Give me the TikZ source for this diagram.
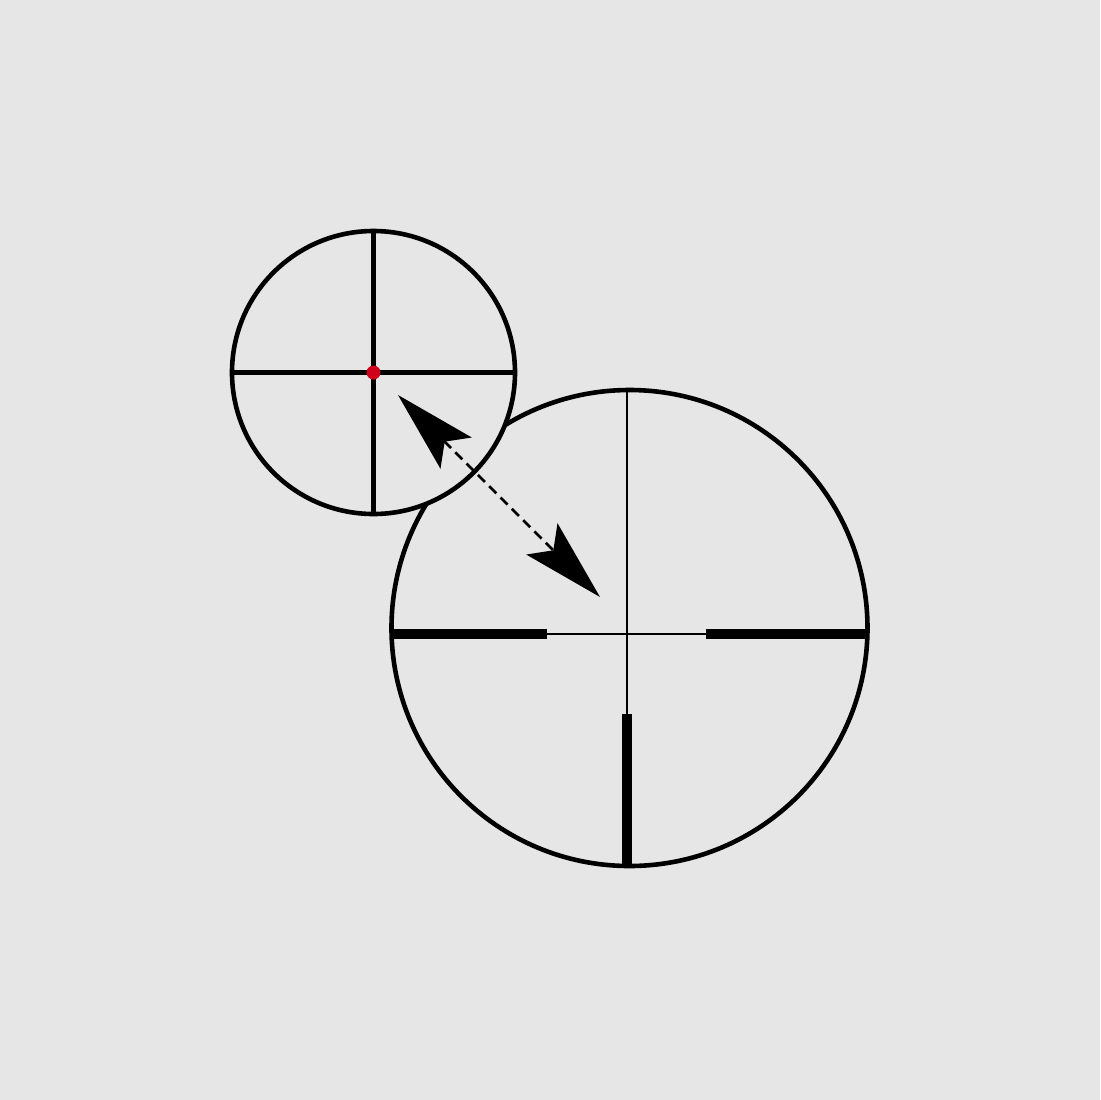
\documentclass[tikz,border=0pt]{standalone}
\usetikzlibrary{arrows.meta}
\definecolor{bg}{HTML}{E6E6E6}
\definecolor{dotred}{HTML}{D0021B}
\begin{document}
\begin{tikzpicture}[x=0.5pt,y=-0.5pt,
  ring/.style={line width=2.3pt,draw=black},
  thinhair/.style={line width=1.1pt,draw=black},
  thickbar/.style={line width=4.8pt,draw=black},
  smallhair/.style={line width=2.4pt,draw=black},
  movearrow/.style={line width=1.4pt,dash pattern=on 5pt off 3pt,
    {Stealth[length=41pt,width=22pt,inset=8pt]}-{Stealth[length=41pt,width=22pt,inset=8pt]}}]
\fill[bg] (0,0) rectangle (1100,1100);
\useasboundingbox (0,0) rectangle (1100,1100);
% big reticle
\coordinate (B) at (629.5,628);
\coordinate (BT) at (627,392);
\coordinate (BL) at (393,634);
\coordinate (BL2) at (547,634);
\coordinate (BR2) at (706,634);
\coordinate (BR) at (866,634);
\coordinate (BB2) at (627,714);
\coordinate (BB) at (627,866);
\draw[ring] (B) circle[radius=238];
\draw[thinhair] (BT) -- (BB2);
\draw[thinhair] (BL2) -- (BR2);
\draw[thickbar] (BL) -- (BL2);
\draw[thickbar] (BR2) -- (BR);
\draw[thickbar] (BB2) -- (BB);
% small reticle
\coordinate (S) at (373.5,372.5);
\fill[bg] (S) circle[radius=141.5];
\draw[ring] (S) circle[radius=141.5];
\draw[smallhair] (373.5,231) -- (373.5,514);
\draw[smallhair] (232,372.5) -- (515,372.5);
\node[circle,fill=dotred,inner sep=0pt,minimum size=7pt] (dot) at (S) {};
% arrow
\coordinate (A1) at (398,395);
\coordinate (A2) at (600,597);
\draw[movearrow] (A1) -- (A2);
\end{tikzpicture}
\end{document}
